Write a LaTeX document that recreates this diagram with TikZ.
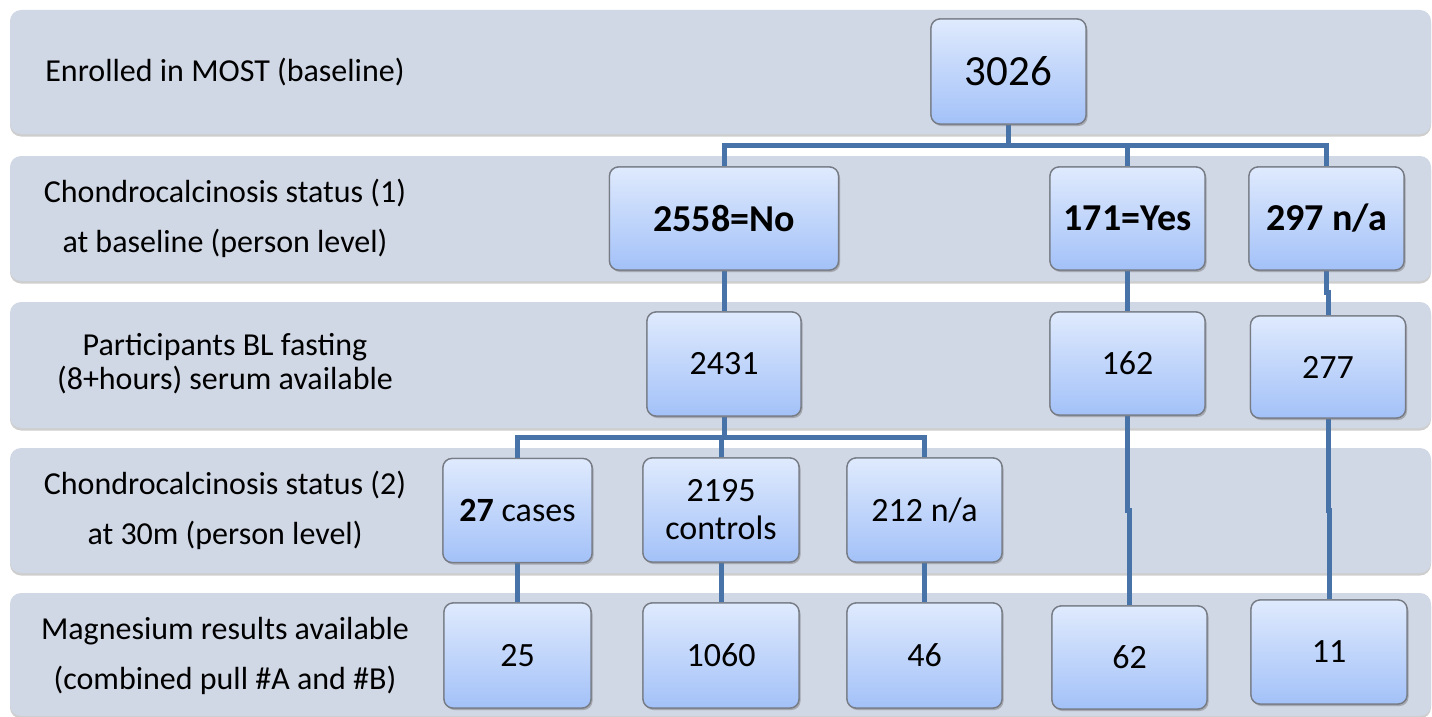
\documentclass[tikz,border=0pt]{standalone}
\usepackage{fontspec}
\setmainfont{Carlito}
\usetikzlibrary{shadows}

\definecolor{bandfill}{HTML}{D0D7E5}
\definecolor{boxtop}{HTML}{DFEAFD}
\definecolor{boxbot}{HTML}{A3C1F8}
\definecolor{boxline}{HTML}{767B84}
\definecolor{linkblue}{HTML}{4873A9}

\tikzset{
  band/.style={fill=bandfill, rounded corners=11pt,
    drop shadow={shadow xshift=0pt, shadow yshift=-2.5pt, opacity=0.35, fill=black!55}},
  box/.style={draw=boxline, line width=1.3pt, rounded corners=9pt,
    top color=boxtop, bottom color=boxbot, inner sep=0pt, align=center,
    text=black, font=\fontsize{34}{38}\selectfont,
    drop shadow={shadow xshift=1.5pt, shadow yshift=-2pt, opacity=0.3}},
  boldbox/.style={box, font=\fontsize{38}{42}\selectfont\bfseries},
  bigbox/.style={box, font=\fontsize{43}{46}\selectfont},
  lbl/.style={align=center, inner sep=0pt, text=black, font=\fontsize{32}{50}\selectfont},
  link/.style={draw=linkblue, line width=5pt}
}

\begin{document}
\begin{tikzpicture}[x=1pt, y=-1pt]
\useasboundingbox (0,0) rectangle (1432,717);

% horizontal background bands, one per stage
\path[band] (10,10)  rectangle (1431,134);
\path[band] (10,156) rectangle (1431,281);
\path[band] (10,302) rectangle (1431,428);
\path[band] (10,448) rectangle (1431,573);
\path[band] (10,593) rectangle (1431,716);

% stage labels
\node[lbl] (l1) at (225,72)  {Enrolled in MOST (baseline)};
\node[lbl] (l2) at (225,218) {Chondrocalcinosis status (1)\\at baseline (person level)};
\node[lbl, font=\fontsize{32}{34}\selectfont] (l3) at (225,364) {Participants BL fasting\\(8+hours) serum available};
\node[lbl] (l4) at (225,510) {Chondrocalcinosis status (2)\\at 30m (person level)};
\node[lbl] (l5) at (225,656) {Magnesium results available\\(combined pull \#A and \#B)};

% empty placeholders fix the box positions for the connectors
\path
  (1008.5,71.5)  node[bigbox, minimum width=155pt, minimum height=105pt] (n3026) {}
  (724,218.5)    node[boldbox, minimum width=229pt, minimum height=103pt] (n2558) {}
  (1127.5,218.5) node[boldbox, minimum width=155pt, minimum height=103pt] (n171) {}
  (1326.5,218.5) node[boldbox, minimum width=155pt, minimum height=103pt] (n297) {}
  (724,364)      node[box, minimum width=154pt, minimum height=104pt] (n2431) {}
  (1127.5,363.5) node[box, minimum width=155pt, minimum height=103pt] (n162) {}
  (1328,367)     node[box, minimum width=155pt, minimum height=102pt] (n277) {}
  (517.5,510.5)  node[box, minimum width=149pt, minimum height=104pt] (n27) {}
  (721,510)      node[box, minimum width=156pt, minimum height=104pt] (n2195) {}
  (924.5,510)    node[box, minimum width=155pt, minimum height=104pt] (n212) {}
  (517.5,655.5)  node[box, minimum width=147pt, minimum height=105pt] (n25) {}
  (721,655.5)    node[box, minimum width=156pt, minimum height=105pt] (n1060) {}
  (924.5,655.5)  node[box, minimum width=155pt, minimum height=105pt] (n46) {}
  (1129.5,657.5) node[box, minimum width=155pt, minimum height=103pt] (n62) {}
  (1329,652)     node[box, minimum width=156pt, minimum height=104pt] (n11) {};

% connectors
\coordinate (j1) at (1008.5,145);
\coordinate (j2) at (724,437);
\draw[link] (n3026.south) -- (j1);
\draw[link] (n2558.north) |- (j1) -| (n297.north);
\draw[link] (n171.north) -- (n171.north |- j1);
\draw[link] (n2558.south) -- (n2431.north);
\draw[link] (n171.south) -- (n162.north);
\draw[link] (n297.south) -- ++(0,22) -| (n277.north);
\draw[link] (n2431.south) -- (j2);
\draw[link] (n27.north) |- (j2) -| (n212.north);
\draw[link] (n2195.north) -- (n2195.north |- j2);
\draw[link] (n162.south) -- ++(0,95) -| (n62.north);
\draw[link] (n277.south) -- ++(0,92) -| (n11.north);
\draw[link] (n27.south) -- (n25.north);
\draw[link] (n2195.south) -- (n1060.north);
\draw[link] (n212.south) -- (n46.north);

% boxes drawn over the connector ends
\node[bigbox, minimum width=155pt, minimum height=105pt] at (n3026) {3026};
\node[boldbox, minimum width=229pt, minimum height=103pt] at (n2558) {2558=No};
\node[boldbox, minimum width=155pt, minimum height=103pt] at (n171) {171=Yes};
\node[boldbox, minimum width=155pt, minimum height=103pt] at (n297) {297 n/a};
\node[box, minimum width=154pt, minimum height=104pt] at (n2431) {2431};
\node[box, minimum width=155pt, minimum height=103pt] at (n162) {162};
\node[box, minimum width=155pt, minimum height=102pt] at (n277) {277};
\node[box, minimum width=149pt, minimum height=104pt] at (n27) {\textbf{27} cases};
\node[box, minimum width=156pt, minimum height=104pt] at (n2195) {2195\\controls};
\node[box, minimum width=155pt, minimum height=104pt] at (n212) {212 n/a};
\node[box, minimum width=147pt, minimum height=105pt] at (n25) {25};
\node[box, minimum width=156pt, minimum height=105pt] at (n1060) {1060};
\node[box, minimum width=155pt, minimum height=105pt] at (n46) {46};
\node[box, minimum width=155pt, minimum height=103pt] at (n62) {62};
\node[box, minimum width=156pt, minimum height=104pt] at (n11) {11};
\end{tikzpicture}
\end{document}
